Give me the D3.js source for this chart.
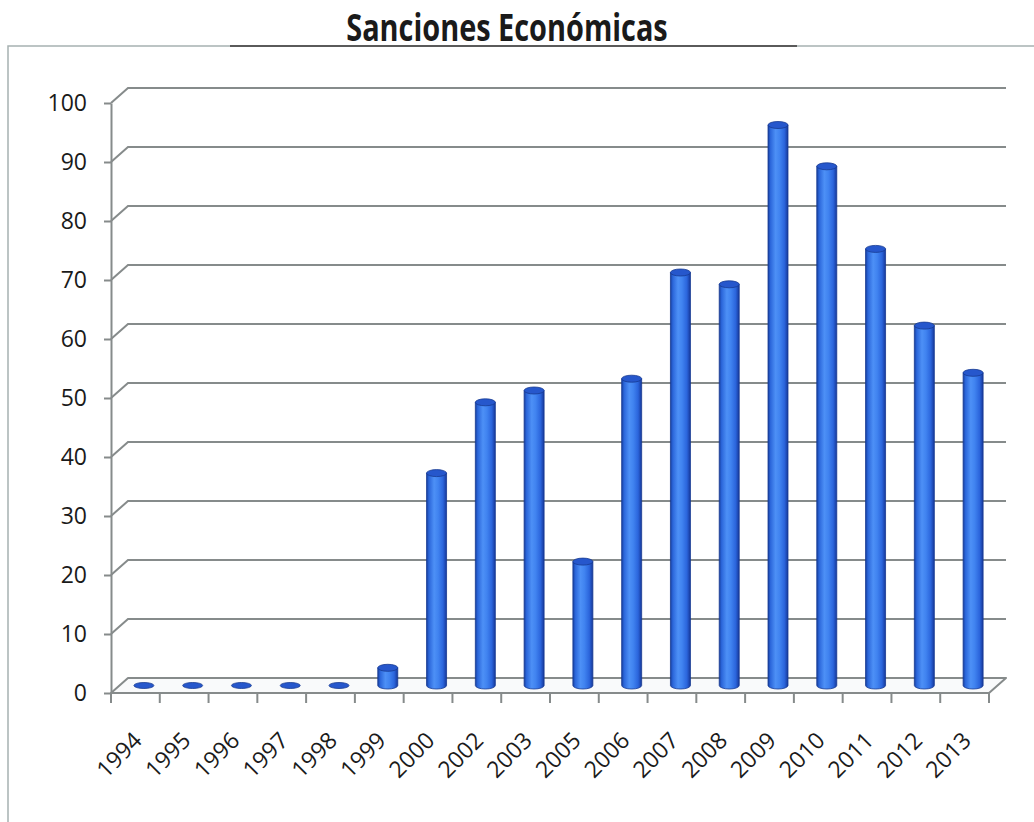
<!DOCTYPE html>
<html lang="es">
<head>
<meta charset="utf-8">
<title>Sanciones Económicas</title>
<script src="https://cdn.jsdelivr.net/npm/d3@7"></script>
<style>
  html, body { margin: 0; padding: 0; background: #ffffff; }
  svg { display: block; }
  text { font-family: "Open Sans", "Noto Sans", sans-serif; fill: #1a1a1a; }
</style>
</head>
<body>
<svg id="chart" width="1034" height="822"></svg>
<script>
// Categories (years) and number of economic sanctions per year
const years = ["1994", "1995", "1996", "1997", "1998", "1999", "2000", "2002", "2003",
               "2005", "2006", "2007", "2008", "2009", "2010", "2011", "2012", "2013"];
const sanciones = [0, 0, 0, 0, 0, 3, 36, 48, 50, 21, 52, 70, 68, 95, 88, 74, 61, 53];
const yTicks = [0, 10, 20, 30, 40, 50, 60, 70, 80, 90, 100];
const titulo = "Sanciones Económicas";

const svg = d3.select("#chart");
const W = 1034, H = 822;

// Plot frame (front face of the 3-D box)
const plotLeft = 111, plotRight = 989, plotBottom = 693, plotTop = 103;
// Depth offset of the back wall
const depthX = 17, depthY = -15;

const x = d3.scaleBand().domain(years).range([plotLeft, plotRight]);
const y = d3.scaleLinear().domain([0, 100]).range([plotBottom, plotTop]);

const gridColor = "#868b8b";

// Outer chart border
svg.append("path")
  .attr("d", `M8,${H} L8,46 L${W},46`)
  .attr("fill", "none")
  .attr("stroke", "#a7b1b1")
  .attr("stroke-width", 1.5);

// Title with its underline
svg.append("line")
  .attr("x1", 230).attr("x2", 797)
  .attr("y1", 46).attr("y2", 46)
  .attr("stroke", "#5a5a5a")
  .attr("stroke-width", 2);

svg.append("text")
  .attr("transform", "translate(507,41) scale(0.85,1.08)")
  .attr("text-anchor", "middle")
  .attr("font-size", 34)
  .attr("font-weight", 700)
  .text(titulo);

// Gradient for the cylindrical bars
const defs = svg.append("defs");
const grad = defs.append("linearGradient")
  .attr("id", "cyl")
  .attr("x1", "0%").attr("x2", "100%")
  .attr("y1", "0%").attr("y2", "0%");
[[0, "#173f9f"], [0.12, "#2b66da"], [0.38, "#4d90f6"], [0.58, "#4083f0"],
 [0.82, "#2b65dc"], [1, "#16389a"]]
  .forEach(([o, c]) => grad.append("stop").attr("offset", o).attr("stop-color", c));

// Floor of the 3-D box
const floorY = y(0);
svg.append("path")
  .attr("d", `M${plotLeft},${floorY} L${plotRight},${floorY} L${plotRight + depthX},${floorY + depthY}
              L${plotLeft + depthX},${floorY + depthY} Z`)
  .attr("fill", "#f9fafb")
  .attr("stroke", gridColor)
  .attr("stroke-width", 2)
  .attr("stroke-linejoin", "round");

// Back-wall gridlines with their diagonal connectors to the value axis
svg.append("g")
  .selectAll("path")
  .data(yTicks.filter(t => t > 0))
  .join("path")
  .attr("d", t => `M${plotLeft},${y(t)} L${plotLeft + depthX},${y(t) + depthY} L${plotRight + depthX},${y(t) + depthY}`)
  .attr("fill", "none")
  .attr("stroke", gridColor)
  .attr("stroke-width", 2);

// Value axis
const yAxis = svg.append("g")
  .attr("transform", `translate(${plotLeft},0)`)
  .call(d3.axisLeft(y).tickValues(yTicks).tickSize(7).tickSizeOuter(0).tickPadding(17));
yAxis.select(".domain").attr("stroke", gridColor).attr("stroke-width", 2);
yAxis.selectAll(".tick line").attr("stroke", gridColor).attr("stroke-width", 2);
yAxis.selectAll(".tick text")
  .attr("font-size", 23)
  .attr("font-family", "'Open Sans', sans-serif")
  .attr("fill", "#1a1a1a");

// Category axis: front edge, boundary ticks and rotated year labels
svg.append("line")
  .attr("x1", plotLeft).attr("x2", plotRight)
  .attr("y1", plotBottom).attr("y2", plotBottom)
  .attr("stroke", gridColor).attr("stroke-width", 2);

const bounds = years.map(d => x(d)).concat([x(years[years.length - 1]) + x.bandwidth()]);
svg.append("g")
  .selectAll("line")
  .data(bounds)
  .join("line")
  .attr("x1", d => d).attr("x2", d => d)
  .attr("y1", plotBottom).attr("y2", plotBottom + 10)
  .attr("stroke", gridColor).attr("stroke-width", 2);

const xAxis = svg.append("g")
  .attr("transform", `translate(0,${plotBottom})`)
  .call(d3.axisBottom(x).tickSize(0));
xAxis.select(".domain").remove();
xAxis.selectAll(".tick text")
  .attr("x", 0).attr("y", 0).attr("dy", 0)
  .attr("text-anchor", "end")
  .attr("transform", "translate(8,49) rotate(-45)")
  .attr("font-size", 23)
  .attr("font-family", "'Open Sans', sans-serif")
  .attr("fill", "#1a1a1a");

// Cylindrical bars placed at mid-depth
const barW = 20, rx = barW / 2, ry = 3.5;
const data = years.map((d, i) => ({ year: d, value: sanciones[i] }));
const cx = d => x(d.year) + x.bandwidth() / 2 + depthX / 2;
const yb = v => y(v) + depthY / 2;

const bars = svg.append("g").selectAll("g").data(data).join("g");

bars.filter(d => d.value > 0)
  .append("path")
  .attr("d", d => {
    const c = cx(d), t = yb(d.value), b = yb(0);
    return `M${c - rx},${t} L${c - rx},${b} A${rx},${ry} 0 0 0 ${c + rx},${b} L${c + rx},${t} Z`;
  })
  .attr("fill", "url(#cyl)")
  .attr("stroke", "#173a92")
  .attr("stroke-width", 0.8);

bars.append("ellipse")
  .attr("cx", d => cx(d))
  .attr("cy", d => yb(d.value))
  .attr("rx", rx)
  .attr("ry", d => d.value > 0 ? ry : 3)
  .attr("fill", "#2657cc")
  .attr("stroke", "#173a92")
  .attr("stroke-width", 0.8);
</script>
</body>
</html>
